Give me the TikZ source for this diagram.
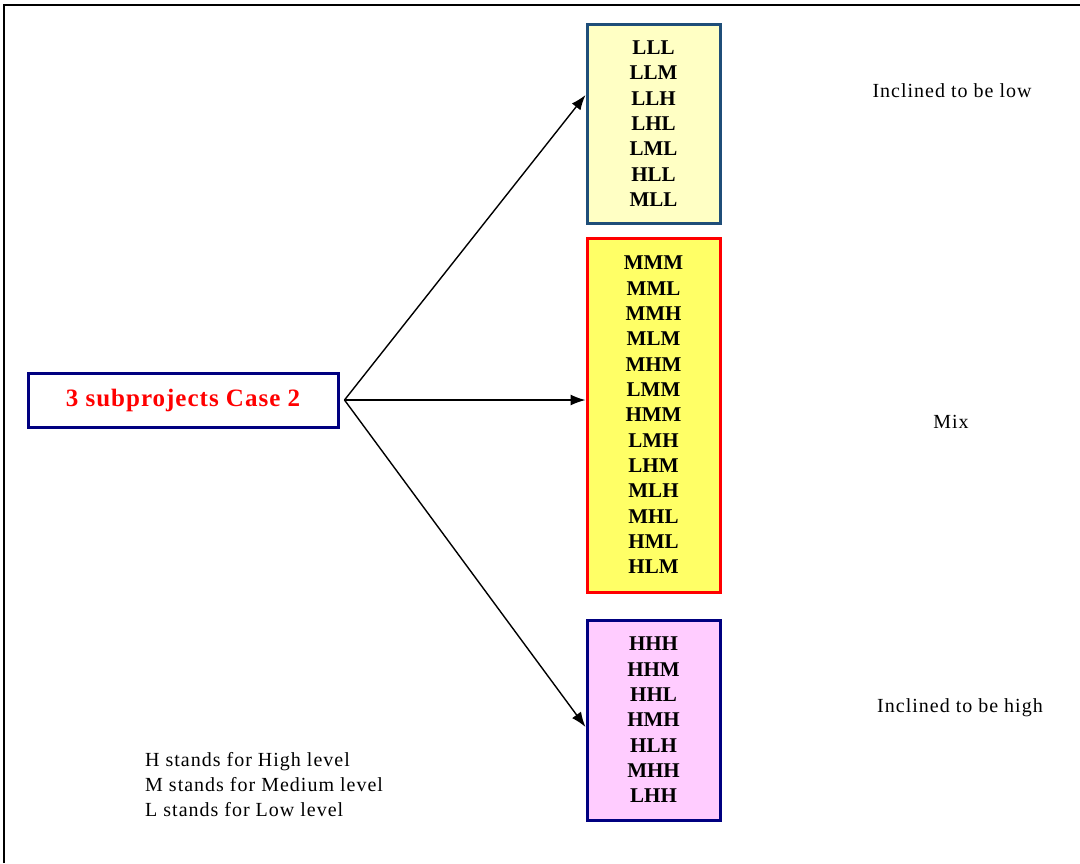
\documentclass[tikz,border=0pt]{standalone}
\usepackage{fontspec}
\setmainfont{Liberation Serif}
\newfontfamily\widespaced[LetterSpace=5]{Liberation Serif}
\newfontfamily\titlespaced[LetterSpace=4]{Liberation Serif}
\usetikzlibrary{arrows.meta}

\definecolor{lowedge}{HTML}{1F4E79}
\definecolor{lowfill}{HTML}{FFFFC4}
\definecolor{mixedge}{HTML}{FF0000}
\definecolor{mixfill}{HTML}{FFFF66}
\definecolor{highedge}{HTML}{000080}
\definecolor{highfill}{HTML}{FFCCFF}
\definecolor{casered}{HTML}{FF0000}

\tikzset{
  combo/.style={draw, line width=3pt, minimum width=133pt, inner sep=0pt,
    align=center, font=\fontsize{21}{25.33}\selectfont\bfseries},
  caselabel/.style={font=\widespaced\fontsize{20}{25}\selectfont},
  branch/.style={line width=1.4pt, -{Latex[length=15pt,width=11pt]}}
}

\begin{document}
\begin{tikzpicture}[x=1pt,y=-1pt]
  \useasboundingbox (0,0) rectangle (1080,863);
  \fill[white] (0,0) rectangle (1080,863);

  % outer frame: top and left edges only
  \draw[line width=2pt] (4,863) -- (4,5) -- (1080,5);

  % source box
  \node[draw=highedge, line width=3pt, minimum width=310pt, minimum height=54pt,
        inner sep=0pt, text=casered, font=\titlespaced\fontsize{25}{28}\selectfont\bfseries]
        (src) at (183,400) {3 subprojects Case 2};

  % outcome groups
  \node[combo, draw=lowedge, fill=lowfill, minimum height=199pt] (low) at (653.5,123.5)
    {LLL\\LLM\\LLH\\LHL\\LML\\HLL\\MLL};
  \node[combo, draw=mixedge, fill=mixfill, minimum height=354pt] (mix) at (653.5,415)
    {MMM\\MML\\MMH\\MLM\\MHM\\LMM\\HMM\\LMH\\LHM\\MLH\\MHL\\HML\\HLM};
  \node[combo, draw=highedge, fill=highfill, minimum height=200pt] (high) at (653.5,720)
    {HHH\\HHM\\HHL\\HMH\\HLH\\MHH\\LHH};

  % branches
  \coordinate (fork) at ([xshift=5pt]src.east);
  \draw[branch] (fork) -- ([yshift=28.5pt]low.west);
  \draw[branch] (fork) -- ([yshift=15pt]mix.west);
  \draw[branch] (fork) -- ([yshift=-7pt]high.west);

  % group descriptions
  \node[caselabel] (lowtxt) at (952,91) {Inclined to be low};
  \node[caselabel] (mixtxt) at (951,422) {Mix};
  \node[caselabel] (hightxt) at (960,708) {Inclined to be high};

  % legend
  \node[caselabel, anchor=west, align=left, inner sep=0pt] (legend) at (145,785)
    {H stands for High level\\M stands for Medium level\\L stands for Low level};
\end{tikzpicture}
\end{document}
